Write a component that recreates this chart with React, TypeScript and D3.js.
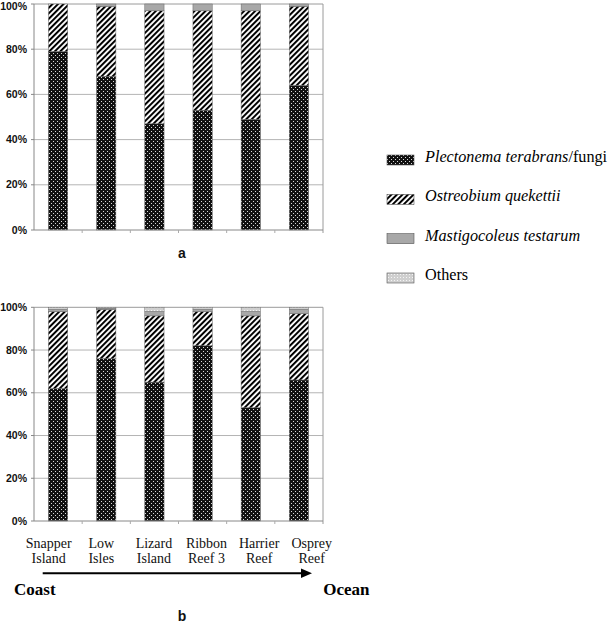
import React from "react";
import * as d3 from "d3";

const sites = ["Snapper Island", "Low Isles", "Lizard Island", "Ribbon Reef 3", "Harrier Reef", "Osprey Reef"];
const seriesKeys = ["plect", "ostreo", "masti", "others"];
const plectA = [79, 68, 47, 53, 49, 64];
const ostreoA = [21, 31, 50, 44, 48, 35];
const mastiA = [0, 1, 3, 3, 3, 1];
const othersA = [0, 0, 0, 0, 0, 0];
const plectB = [62, 76, 65, 82, 53, 66];
const ostreoB = [36, 23, 31, 16, 43, 31];
const mastiB = [1, 0.5, 2, 1, 2, 2];
const othersB = [1, 0.5, 2, 1, 2, 1];
const yTicks = [0, 20, 40, 60, 80, 100];
const legendItems = [
  { key: "plect", italic: "Plectonema terabrans", plain: "/fungi" },
  { key: "ostreo", italic: "Ostreobium quekettii", plain: "" },
  { key: "masti", italic: "Mastigocoleus testarum", plain: "" },
  { key: "others", italic: "", plain: "Others" },
];

const fills: Record<string, string> = {
  plect: "url(#pPlect)",
  ostreo: "url(#pHatch)",
  masti: "#a8a8a8",
  others: "url(#pOthers)",
};

function buildRows(p: number[], o: number[], m: number[], t: number[]) {
  return sites.map((s, i) => ({ site: s, plect: p[i], ostreo: o[i], masti: m[i], others: t[i] }));
}

const SANS = "'Liberation Sans', Arial, sans-serif";
const SERIF = "'Liberation Serif', 'Times New Roman', serif";

function Panel({ rows, top, bottom, letter, letterY }: { rows: any[]; top: number; bottom: number; letter: string; letterY: number }) {
  const left = 34;
  const right = 323;
  const x = d3.scaleBand().domain(sites).range([left, right]).paddingInner(0.6).paddingOuter(0.3);
  const xb = d3.scaleBand().domain(sites).range([left, right]);
  const y = d3.scaleLinear().domain([0, 100]).range([bottom, top]);
  const stacked = d3.stack<any>().keys(seriesKeys)(rows);
  return (
    <g>
      {yTicks.filter((t) => t > 0 && t < 100).map((t) => (
        <line key={"g" + t} x1={left} x2={right} y1={y(t)} y2={y(t)} stroke="#b4b4b4" strokeWidth={1} />
      ))}
      <line x1={left} x2={right} y1={y(100)} y2={y(100)} stroke="#9a9a9a" strokeWidth={1} />
      <line x1={right} x2={right} y1={y(100)} y2={y(0) + 3} stroke="#9a9a9a" strokeWidth={1} />
      {yTicks.map((t) => (
        <g key={"t" + t}>
          <line x1={left - 3} x2={left} y1={y(t)} y2={y(t)} stroke="#888" strokeWidth={1} />
          <text x={27} y={Math.max(y(t), 6)} dy="0.35em" textAnchor="end" fontFamily={SANS} fontWeight="bold" fontSize={10.5} fill="#111">
            {t + "%"}
          </text>
        </g>
      ))}
      {stacked.map((layer) => (
        <g key={layer.key}>
          {layer.map((d: any, i: number) =>
            d[1] - d[0] > 0 ? (
              <rect
                key={i}
                x={x(d.data.site)}
                width={x.bandwidth()}
                y={y(d[1])}
                height={y(d[0]) - y(d[1])}
                fill={fills[layer.key]}
                stroke="#666"
                strokeWidth={0.5}
              />
            ) : null
          )}
        </g>
      ))}
      <line x1={left} x2={left} y1={y(100)} y2={y(0)} stroke="#888" strokeWidth={1} />
      <line x1={left} x2={right} y1={y(0)} y2={y(0)} stroke="#888" strokeWidth={1} />
      {sites.slice(1).map((s) => (
        <line key={"xt" + s} x1={xb(s)} x2={xb(s)} y1={y(0)} y2={y(0) + 3} stroke="#aaa" strokeWidth={1} />
      ))}
      <text x={182} y={letterY} dy="0.35em" textAnchor="middle" fontFamily={SANS} fontWeight="bold" fontSize={14} fill="#111">
        {letter}
      </text>
    </g>
  );
}

export default function App() {
  const rowsA = buildRows(plectA, ostreoA, mastiA, othersA);
  const rowsB = buildRows(plectB, ostreoB, mastiB, othersB);
  const labelX = d3.scalePoint().domain(sites).range([48.7, 311.7]);
  const legendY = d3.scalePoint().domain(legendItems.map((l) => l.key)).range([162, 280]);
  return (
    <svg width={610} height={623} style={{ position: "absolute", left: 0, top: 0, background: "#fff" }}>
      <defs>
        <pattern id="pPlect" width={4} height={4} patternUnits="userSpaceOnUse">
          <rect width={4} height={4} fill="#111" />
          <rect x={1} y={1} width={1} height={1} fill="#d8d8d8" />
          <rect x={3} y={3} width={1} height={1} fill="#d8d8d8" />
        </pattern>
        <pattern id="pHatch" width={3.9} height={3.9} patternUnits="userSpaceOnUse" patternTransform="rotate(45)">
          <rect width={3.9} height={3.9} fill="#fff" />
          <line x1={1} x2={1} y1={0} y2={3.9} stroke="#000" strokeWidth={2} />
        </pattern>
        <pattern id="pOthers" width={3} height={3} patternUnits="userSpaceOnUse">
          <rect width={3} height={3} fill="#cfcfcf" />
          <rect x={1} y={1} width={1} height={1} fill="#f4f4f4" />
        </pattern>
      </defs>
      <Panel rows={rowsA} top={4} bottom={230} letter="a" letterY={253} />
      <Panel rows={rowsB} top={307.3} bottom={521} letter="b" letterY={616} />
      {sites.map((s) => {
        const idx = s.indexOf(" ");
        const l1 = s.slice(0, idx);
        const l2 = s.slice(idx + 1);
        return (
          <text key={s} x={labelX(s)} textAnchor="middle" fontFamily={SERIF} fontSize={14} fill="#111">
            <tspan x={labelX(s)} y={548}>{l1}</tspan>
            <tspan x={labelX(s)} y={563}>{l2}</tspan>
          </text>
        );
      })}
      <line x1={42.7} x2={302} y1={573.3} y2={573.3} stroke="#000" strokeWidth={2} />
      <path d="M301,568.5 L312,573.3 L301,578.1 Z" fill="#000" />
      <text x={14} y={595} fontFamily={SERIF} fontWeight="bold" fontSize={17} fill="#000">Coast</text>
      <text x={369.5} y={595} textAnchor="end" fontFamily={SERIF} fontWeight="bold" fontSize={17} fill="#000">Ocean</text>
      {legendItems.map((l) => {
        const by = legendY(l.key) as number;
        return (
          <g key={l.key}>
            <rect x={387} y={by - 7} width={27} height={10} fill={fills[l.key]} stroke="#555" strokeWidth={0.6} />
            <text x={425} y={by} fontFamily={SERIF} fontSize={16.2} fill="#000">
              {l.italic ? <tspan fontStyle="italic">{l.italic}</tspan> : null}
              {l.plain ? <tspan>{l.plain}</tspan> : null}
            </text>
          </g>
        );
      })}
    </svg>
  );
}
